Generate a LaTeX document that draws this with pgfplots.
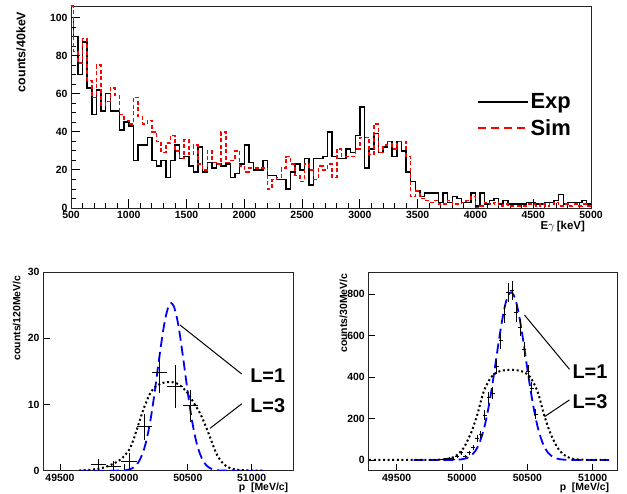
\documentclass[border=0pt]{standalone}
\usepackage{fontspec}
\setmainfont{Liberation Sans}
\usepackage{pgfplots}
\usepackage{pgfplotstable}
\pgfplotsset{compat=1.18}

\pgfplotstableread{
e v
500 100
520 90
560 70
600 87
640 63
680 49
720 62
760 51
800 60
840 51
880 51
920 41
960 45
1000 43
1040 25
1080 33
1120 33
1160 37
1200 25
1240 22
1280 25
1320 16
1360 25
1400 33
1440 26
1480 27
1520 22
1560 19
1600 32
1640 19
1680 24
1720 21
1760 23
1800 22
1840 23
1880 16
1920 18
1960 23
2000 33
2040 24
2080 20
2120 20
2160 25
2200 17
2240 17
2280 15
2320 15
2360 10
2400 19
2440 23
2480 20
2520 26
2560 12
2600 26
2640 26
2680 27
2720 40
2760 27
2800 26
2840 26
2880 31
2920 29
2960 38
3000 53
3040 21
3080 31
3120 39
3160 29
3200 32
3240 35
3280 27
3320 35
3360 30
3400 19
3440 14
3480 9
3520 6
3560 8
3600 8
3640 8
3680 3
3720 8
3760 3
3800 6
3840 5
3880 3
3920 3
3960 8
4000 1
4040 8
4080 2
4120 4
4160 5
4200 2
4240 4
4280 2
4320 2
4360 2
4400 2
4440 3
4480 3
4520 2
4560 2
4600 3
4640 3
4680 4
4720 7
4760 2
4800 3
4840 3
4880 3
4920 4
4960 2
5000 2
}\expdata

\pgfplotstableread{
e v
500 106
520 82
560 76
600 89
640 67
680 58
720 75
760 54
800 56
840 63
880 59
920 49
960 46
1000 44
1040 58
1080 48
1120 44
1160 46
1200 40
1240 35
1280 29
1320 34
1360 38
1400 30
1440 26
1480 36
1520 28
1560 33
1600 23
1640 20
1680 30
1720 24
1760 23
1800 40
1840 24
1880 25
1920 30
1960 22
2000 19
2040 21
2080 21
2120 21
2160 21
2200 10
2240 15
2280 16
2320 21
2360 27
2400 23
2440 17
2480 14
2520 23
2560 20
2600 15
2640 22
2680 20
2720 23
2760 16
2800 31
2840 27
2880 27
2920 27
2960 31
3000 37
3040 37
3080 28
3120 44
3160 29
3200 33
3240 35
3280 31
3320 35
3360 35
3400 27
3440 6
3480 9
3520 5
3560 4
3600 3
3640 4
3680 2
3720 2
3760 4
3800 2
3840 2
3880 3
3920 4
3960 6
4000 0
4040 1
4080 3
4120 2
4160 3
4200 1
4240 2
4280 1
4320 1
4360 1
4400 1
4440 2
4480 2
4520 1
4560 2
4600 1
4640 2
4680 3
4720 1
4760 2
4800 1
4840 2
4880 1
4920 2
4960 1
5000 1
}\simdata

\pgfplotstableread{
x y ex ey
49800 0.9 60 0.9
49920 0.7 60 0.7
50040 1.4 60 1.2
50160 6.6 60 2.0
50280 14.8 60 3.1
50400 12.7 60 3.2
50520 9.8 60 2.4
}\leftdata

\pgfplotstableread{
x y ex ey
49845 3 15 3
49875 5 15 3.6
49905 8 15 4.5
49935 4 15 3.2
49965 16 15 6.4
49995 35 15 9.5
50025 18 15 6.8
50055 35 15 9.5
50085 60 15 12.4
50115 105 15 16.4
50145 124 15 17.8
50175 217 15 23.6
50205 300 15 27.7
50235 322 15 28.7
50265 450 15 34
50295 575 15 38
50325 705 15 42.5
50355 810 15 45.5
50385 820 15 45.8
50415 710 15 42.6
50445 640 15 40.5
50475 535 15 37
50505 426 15 33
50535 345 15 29.7
50565 220 15 23.7
}\rightdata

\begin{document}
\begin{tikzpicture}
\path[use as bounding box] (0,0) rectangle (627bp,494bp);

\pgfplotsset{
  every axis/.append style={
    scale only axis,
    axis line style={line width=0.9bp, black!85},
    tick pos=left,
    tick align=inside,
    every tick/.style={black, line width=0.8bp},
    scaled ticks=false,
    /pgf/number format/1000 sep={},
    /pgf/number format/assume math mode=true,
    ticklabel style={font=\fontsize{10.5}{12}\selectfont\bfseries},
  },
}

% ---------------- top panel ----------------
\begin{axis}[
  at={(71bp,286bp)}, anchor=south west,
  width=520bp, height=202bp,
  xmin=500, xmax=5000, ymin=0, ymax=106,
  xtick={500,1000,...,5000},
  ytick={0,20,...,100},
  minor x tick num=4,
  minor y tick num=3,
  major tick length=9bp, minor tick length=4.5bp,
  xlabel={E\textmd{$\gamma$}\,[keV]},
  ylabel={counts/40keV},
  label style={font=\fontsize{11.5}{13}\selectfont\bfseries},
  ylabel style={at={(axis description cs:-0.0962,0.989)}, anchor=east,
    font=\fontsize{12.5}{14}\selectfont\bfseries},
  xlabel style={at={(axis description cs:0.995,-0.092)}, anchor=east},
  legend style={at={(axis description cs:0.873,0.46)}, anchor=center,
    draw=none, fill=none, row sep=5bp, inner sep=0pt,
    font=\fontsize{22}{24}\selectfont\bfseries, cells={anchor=west}},
]
\addplot[const plot mark left, black, line width=1.5bp,
  legend image code/.code={\draw[black,line width=1.4bp] (0bp,0bp) -- (50bp,0bp);}]
  table[x=e, y=v] {\expdata};
\addlegendentry{Exp}
\addplot[const plot mark left, red, line width=1.5bp, dash pattern=on 4bp off 2.5bp,
  legend image code/.code={\draw[red,line width=1.4bp,dash pattern=on 8bp off 5bp] (0bp,0bp) -- (50bp,0bp);}]
  table[x=e, y=v] {\simdata};
\addlegendentry{Sim}
\end{axis}

% ---------------- bottom left panel ----------------
\begin{axis}[
  at={(43bp,23.3bp)}, anchor=south west,
  width=250bp, height=198.7bp,
  xmin=49367, xmax=51323, ymin=0, ymax=30,
  xtick={49500,50000,50500,51000},
  ytick={0,10,20,30},
  major tick length=7bp,
  xlabel={p\ \ [MeV/c]},
  ylabel={counts/120MeV/c},
  label style={font=\fontsize{10.5}{12}\selectfont\bfseries},
  ylabel style={at={(axis description cs:-0.105,1.0)}, anchor=east},
  xlabel style={at={(axis description cs:0.995,-0.088)}, anchor=east},
]
\addplot[blue, line width=1.8bp, dash pattern=on 10bp off 5bp, smooth] coordinates {
(49650,0) (49800,0) (49900,0) (49970,0.02) (50010,0.07) (50050,0.24) (50070,0.43)
(50090,0.72) (50110,1.18) (50130,1.86) (50150,2.82) (50170,4.1) (50190,5.8)
(50210,7.9) (50230,10.4) (50250,13.2) (50270,16.1) (50290,18.9) (50310,21.5)
(50330,23.5) (50350,24.84) (50370,25.3) (50390,24.84) (50410,23.5) (50430,21.5)
(50450,18.9) (50470,16.1) (50490,13.2) (50510,10.4) (50530,7.9) (50550,5.8)
(50570,4.1) (50590,2.82) (50610,1.86) (50630,1.18) (50650,0.72) (50670,0.43)
(50690,0.24) (50730,0.07) (50770,0.02) (50850,0) (50950,0) (51090,0)};
\addplot[black, line width=2bp, dash pattern=on 2bp off 2.6bp, smooth] coordinates {
(49650,0.02) (49713,0.1) (49817,0.35) (49896,0.86) (49974,1.7) (50039,3.1)
(50075,4.7) (50104,6.4) (50157,9.5) (50209,11.8) (50261,12.9) (50313,13.3)
(50365,13.4) (50410,13.2) (50444,12.8) (50496,11.8) (50548,10.2) (50600,8.5)
(50653,6.1) (50700,3.7) (50731,2.3) (50780,1.0) (50835,0.35) (50914,0.1)
(51000,0.02) (51100,0)};
\addplot[only marks, mark=*, mark size=0pt, mark options={draw=none, fill=none},
  error bars/.cd, x dir=both, x explicit, y dir=both, y explicit, error mark=none,
  error bar style={line width=1bp, black, solid}]
  table[x=x, y=y, x error=ex, y error=ey] {\leftdata};
\draw[black, line width=1bp] (axis cs:50922,14.6) -- (axis cs:50439,22.0);
\draw[black, line width=1bp] (axis cs:50922,10.1) -- (axis cs:50674,6.4);
\node[anchor=west, inner sep=0pt, font=\fontsize{20}{22}\selectfont\bfseries] at (axis cs:50987,14.3) {L=1};
\node[anchor=west, inner sep=0pt, font=\fontsize{20}{22}\selectfont\bfseries] at (axis cs:50987,9.8) {L=3};
\end{axis}

% ---------------- bottom right panel ----------------
\begin{axis}[
  at={(368.3bp,23.3bp)}, anchor=south west,
  width=249.4bp, height=198.7bp,
  xmin=49283, xmax=51191, ymin=-52, ymax=908,
  xtick={49500,50000,50500,51000},
  ytick={0,200,400,600,800},
  major tick length=7bp,
  xlabel={p\ \ [MeV/c]},
  ylabel={counts/30MeV/c},
  label style={font=\fontsize{10.5}{12}\selectfont\bfseries},
  ylabel style={at={(axis description cs:-0.100,1.01)}, anchor=east},
  xlabel style={at={(axis description cs:0.980,-0.088)}, anchor=east},
]
\addplot[blue, line width=1.8bp, dash pattern=on 10bp off 5bp, smooth] coordinates {
(49630,0) (49800,0) (49935,0.4) (49975,1.5) (49995,2.8) (50015,5.1) (50035,8.8)
(50055,14.7) (50075,23.9) (50095,37.6) (50115,57) (50135,85) (50155,122)
(50175,169) (50195,228) (50215,297) (50235,376) (50255,461) (50275,548)
(50295,630) (50315,703) (50335,761) (50355,797) (50375,810) (50395,797)
(50415,761) (50435,703) (50455,630) (50475,548) (50495,461) (50515,376)
(50535,297) (50555,228) (50575,169) (50595,122) (50615,85) (50635,57)
(50655,37.6) (50675,23.9) (50695,14.7) (50715,8.8) (50735,5.1) (50755,2.8)
(50775,1.5) (50815,0.4) (50950,0) (51125,0)};
\addplot[black, line width=2bp, dash pattern=on 2bp off 2.6bp, smooth] coordinates {
(49290,0) (49500,0) (49700,0.1) (49772,0.3) (49822,1) (49872,3) (49922,10)
(49972,28) (49997,45) (50022,68) (50047,100) (50072,135) (50097,180)
(50122,230) (50147,290) (50172,340) (50222,400) (50272,425) (50322,433)
(50372,435) (50422,433) (50472,425) (50522,400) (50572,340) (50597,290)
(50622,230) (50647,180) (50672,135) (50697,100) (50722,68) (50747,45)
(50772,28) (50822,10) (50872,3) (50922,1) (50972,0.3) (51100,0)};
\addplot[only marks, mark=*, mark size=0pt, mark options={draw=none, fill=none},
  error bars/.cd, x dir=both, x explicit, y dir=both, y explicit, error mark=none,
  error bar style={line width=1bp, black, solid}]
  table[x=x, y=y, x error=ex, y error=ey] {\rightdata};
\draw[black, line width=1bp] (axis cs:50822,438) -- (axis cs:50478,700);
\draw[black, line width=1bp] (axis cs:50822,290) -- (axis cs:50631,209);
\node[anchor=west, inner sep=0pt, font=\fontsize{20}{22}\selectfont\bfseries] at (axis cs:50844,426) {L=1};
\node[anchor=west, inner sep=0pt, font=\fontsize{20}{22}\selectfont\bfseries] at (axis cs:50844,281) {L=3};
\end{axis}
\end{tikzpicture}
\end{document}
